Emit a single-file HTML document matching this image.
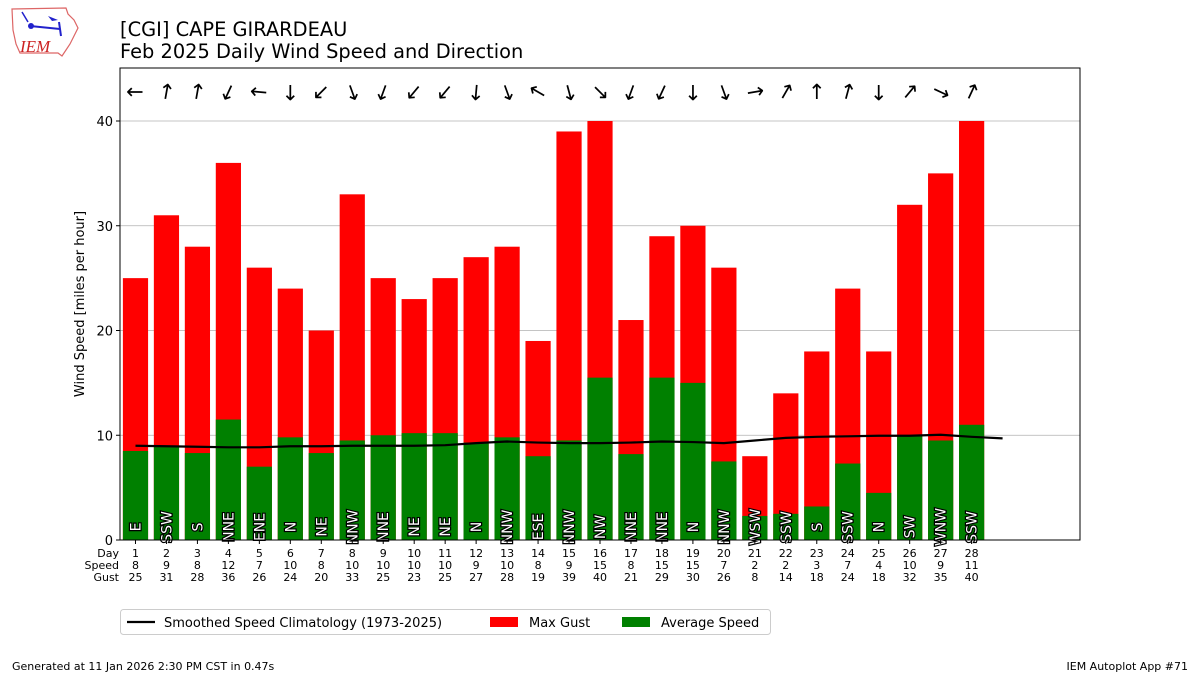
<!DOCTYPE html>
<html><head><meta charset="utf-8"><style>
body{margin:0;background:#fff;width:1200px;height:675px;overflow:hidden;font-family:"DejaVu Sans","Liberation Sans",sans-serif}
</style></head><body>
<svg id="s" width="1200" height="675" xmlns="http://www.w3.org/2000/svg" font-family="DejaVu Sans, Liberation Sans, sans-serif">
<g>
<path d="M12 9 L66 8 L68 14 L74 20 L78 28 L74 36 L70 44 L66 50 L62 56 L58 53 L20 53 L16 44 L13 30 Z" fill="#fff" stroke="#d66" stroke-width="1.2"/>
<line x1="30" y1="26" x2="60" y2="29" stroke="#22c" stroke-width="2"/>
<circle cx="31" cy="26" r="3" fill="#22c"/>
<path d="M48 16 L58 20 L52 21 Z" fill="#22c"/>
<line x1="59" y1="22" x2="61" y2="36" stroke="#22c" stroke-width="2"/>
<line x1="22" y1="12" x2="28" y2="22" stroke="#22c" stroke-width="1.5"/>
<text x="20" y="52" font-family="Liberation Serif, serif" font-style="italic" font-size="17" fill="#c22">IEM</text>
</g>
<text x="120" y="36" font-size="19.4">[CGI] CAPE GIRARDEAU</text>
<text x="120" y="58" font-size="19.4">Feb 2025 Daily Wind Speed and Direction</text>
<g id="p"></g>
<text x="12" y="670" font-size="11">Generated at 11 Jan 2026 2:30 PM CST in 0.47s</text>
<text x="1188" y="670" font-size="11" text-anchor="end">IEM Autoplot App #71</text>
</svg>
<script>
var g=document.getElementById('p'),h='';
var X=function(d){return 120+(d-0.5)*960/31},Y=function(v){return 540-v*10.475};
var gust=[25,31,28,36,26,24,20,33,25,23,25,27,28,19,39,40,21,29,30,26,8,14,18,24,18,32,35,40];
var spd=[8,9,8,12,7,10,8,10,10,10,10,9,10,8,9,15,8,15,15,7,2,2,3,7,4,10,9,11];
var av=[8.5,9,8.3,11.5,7,9.8,8.3,9.5,10,10.2,10.2,9.3,9.8,8,9.5,15.5,8.2,15.5,15,7.5,2.3,2.5,3.2,7.3,4.5,10,9.5,11];
var dir=['E','SSW','S','NNE','ENE','N','NE','NNW','NNE','NE','NE','N','NNW','ESE','NNW','NW','NNE','NNE','N','NNW','WSW','SSW','S','SSW','N','SW','WNW','SSW'];
var ang=[270,10,10,205,275,180,225,160,200,220,220,185,160,300,165,135,200,205,180,160,80,30,0,15,180,40,115,25];
var cl=[9.0,8.95,8.9,8.85,8.85,8.95,8.95,9.0,9.0,9.0,9.05,9.25,9.4,9.3,9.25,9.25,9.3,9.4,9.35,9.25,9.5,9.75,9.85,9.9,9.95,9.95,10.05,9.85,9.7];
[10,20,30,40].forEach(function(v){h+='<line x1="120" x2="1080" y1="'+Y(v)+'" y2="'+Y(v)+'" stroke="#b0b0b0" stroke-width="0.8"/>';});
var bw=25.2;
for(var i=0;i<28;i++){var x=X(i+1);
h+='<rect x="'+(x-bw/2)+'" y="'+Y(gust[i])+'" width="'+bw+'" height="'+(gust[i]*10.475)+'" fill="#f00"/>';
h+='<rect x="'+(x-bw/2)+'" y="'+Y(av[i])+'" width="'+bw+'" height="'+(av[i]*10.475)+'" fill="#008000"/>';
h+='<text transform="translate('+(x+5)+',527) rotate(-90)" text-anchor="middle" font-size="14" fill="#fff" stroke="#000" stroke-width="2.4" paint-order="stroke">'+dir[i]+'</text>';
h+='<text transform="translate('+x+',92) rotate('+ang[i]+')" text-anchor="middle" dy="7" font-size="21" fill="#000">↑</text>';
h+='<line x1="'+x+'" x2="'+x+'" y1="540" y2="544" stroke="#000"/>';
h+='<text x="'+x+'" y="557" font-size="11" text-anchor="middle">'+(i+1)+'</text>';
h+='<text x="'+x+'" y="569" font-size="11" text-anchor="middle">'+spd[i]+'</text>';
h+='<text x="'+x+'" y="581" font-size="11" text-anchor="middle">'+gust[i]+'</text>';}
var pts=cl.map(function(v,i){return X(i+1)+','+Y(v)}).join(' ');
h+='<polyline points="'+pts+'" fill="none" stroke="#000" stroke-width="2.2"/>';
h+='<rect x="120" y="68" width="960" height="472" fill="none" stroke="#000" stroke-width="1"/>';
[0,10,20,30,40].forEach(function(v){h+='<line x1="116" x2="120" y1="'+Y(v)+'" y2="'+Y(v)+'" stroke="#000"/><text x="113" y="'+(Y(v)+5)+'" font-size="13" text-anchor="end">'+v+'</text>';});
h+='<text transform="translate(84,304) rotate(-90)" text-anchor="middle" font-size="13">Wind Speed [miles per hour]</text>';
h+='<text x="119" y="557" font-size="11" text-anchor="end">Day</text><text x="119" y="569" font-size="11" text-anchor="end">Speed</text><text x="119" y="581" font-size="11" text-anchor="end">Gust</text>';
h+='<rect x="120.5" y="609.5" width="650" height="25" rx="3" fill="#fff" stroke="#ccc"/>';
h+='<line x1="127" x2="155" y1="622" y2="622" stroke="#000" stroke-width="2.2"/><text x="164" y="627" font-size="13">Smoothed Speed Climatology (1973-2025)</text>';
h+='<rect x="490" y="617" width="28" height="10" fill="#f00"/><text x="529" y="627" font-size="13">Max Gust</text>';
h+='<rect x="622" y="617" width="28" height="10" fill="#008000"/><text x="661" y="627" font-size="13">Average Speed</text>';
g.innerHTML=h;
</script>
</body></html>
